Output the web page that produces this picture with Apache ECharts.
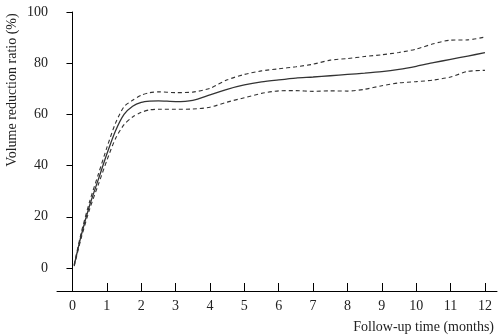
<!DOCTYPE html>
<html>
<head>
<meta charset="utf-8">
<script src="https://cdn.jsdelivr.net/npm/echarts@6/dist/echarts.min.js"></script>
<style>html,body{margin:0;padding:0;background:#fff}#c{width:500px;height:336px}</style>
</head>
<body>
<div id="c"></div>
<script>
const months = [0.05, 0.25, 0.5, 0.75, 1, 1.25, 1.5, 1.75, 2, 2.25, 2.5, 3, 3.5, 4, 4.5, 5, 5.5, 6, 6.5, 7, 7.5, 8, 8.5, 9, 9.5, 10, 10.5, 11, 11.5, 12];
const meanRatio = [1, 12.5, 24.5, 34.5, 44.5, 53.5, 60, 63.2, 64.7, 65.2, 65.3, 65, 65.5, 67.6, 69.8, 71.5, 72.7, 73.5, 74.2, 74.6, 75.1, 75.6, 76.1, 76.7, 77.6, 78.8, 80.2, 81.5, 82.8, 84.1];
const upperCI = [1.3, 13.5, 26, 36.5, 47, 56.5, 63, 65.5, 67.5, 68.5, 68.8, 68.5, 68.7, 70.2, 73.5, 75.6, 77, 77.8, 78.6, 79.6, 81.2, 81.8, 82.6, 83.3, 84.2, 85.5, 87.6, 89, 89.1, 90.2];
const lowerCI = [0.7, 11.5, 23, 32.5, 42, 50.5, 56, 59, 60.8, 61.8, 62, 62, 62.1, 62.8, 64.8, 66.5, 68.2, 69.2, 69.3, 69, 69.2, 69.1, 69.8, 71.2, 72.3, 72.8, 73.4, 74.6, 76.8, 77.2];
const xTicks = [0, 1, 2, 3, 4, 5, 6, 7, 8, 9, 10, 11, 12];
const yTicks = [0, 20, 40, 60, 80, 100];
const xTitle = 'Follow-up time (months)';
const yTitle = 'Volume reduction ratio (%)';

const font = 'Liberation Serif';
const pair = arr => months.map((m, i) => [m, arr[i]]);
const lineColor = '#333';
const chart = echarts.init(document.getElementById('c'));
chart.setOption({
  animation: false,
  grid: { left: 57, right: 3, top: 12, bottom: 45 },
  xAxis: {
    type: 'value', min: -0.45, max: 12.35,
    axisLine: { onZero: false, lineStyle: { color: '#000', width: 1 } },
    axisTick: { show: true, inside: true, length: 8, customValues: xTicks, lineStyle: { color: '#000' } },
    axisLabel: { customValues: xTicks, margin: 8, color: '#222', fontFamily: font, fontSize: 14 },
    splitLine: { show: false }
  },
  yAxis: {
    type: 'value', min: -9, max: 100,
    axisLine: { show: true, lineStyle: { color: '#000', width: 1 } },
    axisTick: { show: true, inside: false, length: 6, customValues: yTicks, lineStyle: { color: '#000' } },
    axisLabel: { customValues: yTicks, margin: 9, color: '#222', fontFamily: font, fontSize: 14 },
    splitLine: { show: false }
  },
  graphic: [
    { type: 'text', x: 12, y: 90, rotation: Math.PI / 2,
      style: { text: yTitle, fill: '#222', font: '14px "Liberation Serif"', textAlign: 'center', textVerticalAlign: 'middle' } },
    { type: 'text', x: 494, y: 327,
      style: { text: xTitle, fill: '#222', font: '14px "Liberation Serif"', textAlign: 'right', textVerticalAlign: 'middle' } }
  ],
  series: [
    { type: 'line', data: pair(meanRatio), smooth: 0.25, symbol: 'none',
      lineStyle: { color: lineColor, width: 1.3 } },
    { type: 'line', data: pair(upperCI), smooth: 0.25, symbol: 'none',
      lineStyle: { color: lineColor, width: 1.1, type: [4, 3] } },
    { type: 'line', data: pair(lowerCI), smooth: 0.25, symbol: 'none',
      lineStyle: { color: lineColor, width: 1.1, type: [4, 3] } }
  ]
});
</script>
</body>
</html>
